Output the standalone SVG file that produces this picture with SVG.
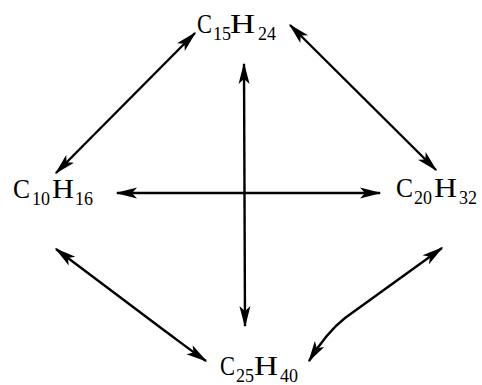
<svg xmlns="http://www.w3.org/2000/svg" width="482" height="385" viewBox="0 0 482 385">
<style>
.lbl{font-family:"Liberation Serif","Times New Roman",serif;font-size:28px;fill:#000}
.sub{font-size:18px}
.arr{fill:none;stroke:#000;stroke-width:2.4;marker-start:url(#ah);marker-end:url(#ah)}
</style>
<defs>
<marker id="ah" markerUnits="userSpaceOnUse" viewBox="-22 -7 24 14" refX="0" refY="0" markerWidth="24" markerHeight="14" orient="auto-start-reverse">
<path d="M1.5,0 L-20,-5.5 L-15,0 L-20,5.5 Z" fill="#000"/>
</marker>
</defs>
<rect width="482" height="385" fill="#fff"/>
<g id="connectors">
<path class="arr" d="M56,173 L195,33"/>
<path class="arr" d="M290,25 L436,170"/>
<path class="arr" d="M56,249 L165,331 C176,339 190,350 206,361"/>
<path class="arr" d="M442,248 L345,318 C336,325 322,340 309,361"/>
<path class="arr" d="M117,193 L380,193"/>
<path class="arr" d="M244,64 L245,326"/>
</g>
<g id="n-c15h24"><text class="lbl"><tspan x="197" y="33" textLength="15" lengthAdjust="spacingAndGlyphs">C</tspan><tspan class="sub" x="213" y="40">15</tspan><tspan x="230" y="33" textLength="25" lengthAdjust="spacingAndGlyphs">H</tspan><tspan class="sub" x="258" y="40">24</tspan></text></g>
<g id="n-c10h16"><text class="lbl"><tspan x="13" y="198" textLength="17" lengthAdjust="spacingAndGlyphs">C</tspan><tspan class="sub" x="32" y="205">10</tspan><tspan x="52" y="198" textLength="22" lengthAdjust="spacingAndGlyphs">H</tspan><tspan class="sub" x="75" y="205">16</tspan></text></g>
<g id="n-c20h32"><text class="lbl"><tspan x="396" y="197" textLength="17" lengthAdjust="spacingAndGlyphs">C</tspan><tspan class="sub" x="414" y="204">20</tspan><tspan x="434" y="197" textLength="23" lengthAdjust="spacingAndGlyphs">H</tspan><tspan class="sub" x="459" y="204">32</tspan></text></g>
<g id="n-c25h40"><text class="lbl"><tspan x="220" y="375" textLength="15" lengthAdjust="spacingAndGlyphs">C</tspan><tspan class="sub" x="236" y="382">25</tspan><tspan x="254" y="375" textLength="24" lengthAdjust="spacingAndGlyphs">H</tspan><tspan class="sub" x="280" y="382">40</tspan></text></g>
</svg>
